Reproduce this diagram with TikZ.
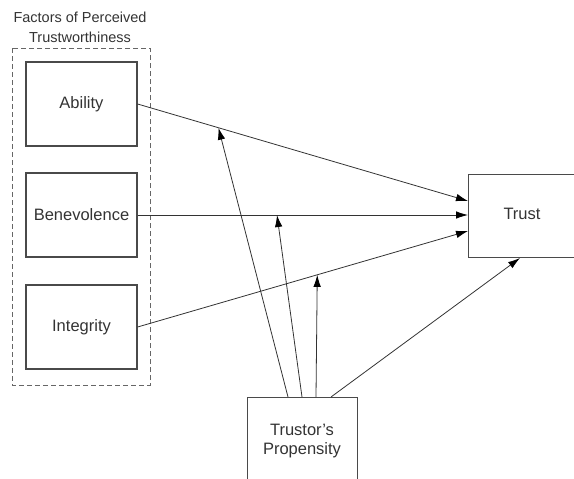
\documentclass[tikz,border=0pt]{standalone}
\usepackage{fontspec}
\setmainfont{Liberation Sans}
\usetikzlibrary{arrows.meta,calc}
\definecolor{edge}{HTML}{4A4A4A}
\definecolor{ink}{HTML}{333333}
\begin{document}
\begin{tikzpicture}[x=1pt,y=-1pt,
  lbl/.style={font=\fontsize{16.5}{19.5}\selectfont,text=ink,align=center},
  box/.style={draw=edge,line width=1.2pt,minimum width=111pt,minimum height=84pt,inner sep=0pt,lbl},
  link/.style={draw=ink,line width=0.8pt,-{Latex[length=12pt,width=7.5pt,color=black]}}]
\useasboundingbox (0,0) rectangle (574,479);
% factor group
\draw[draw=gray!80!black,line width=0.9pt,dash pattern=on 5pt off 3pt] (12,48) rectangle (150,385);
\node[font=\fontsize{14.5}{20}\selectfont,text=ink,align=center] (title) at (80,27) {Factors of Perceived\\Trustworthiness};
\node[box] (abil) at (81.5,104) {Ability};
\node[box] (bene) at (81.5,215) {Benevolence};
\node[box] (integ) at (81.5,327) {Integrity};
% outcome and moderator
\node[box,minimum width=106pt,minimum height=83pt,anchor=north west] (trust) at (468,174) {};
\node[lbl] at (522,214) {Trust};
\node[box,minimum width=110pt,minimum height=90pt,anchor=north west] (prop) at (247,397) {};
\node[lbl] at (302,441) {Trustor's\\Propensity};
% main paths
\coordinate (tA) at (468,201);
\coordinate (tB) at (468,215);
\coordinate (tI) at (468,231);
\draw[link] (abil.east) -- (tA);
\draw[link] (bene.east) -- (tB);
\draw[link] (integ.east) -- (tI);
% moderating paths
\coordinate (mA) at ($(abil.east)!0.2447!(tA)$);
\coordinate (mB) at (277,215);
\coordinate (mI) at ($(integ.east)!0.5438!(tI)$);
\draw[link] (288,397) -- (mA);
\draw[link] (302,397) -- (mB);
\draw[link] (316,397) -- (mI);
\draw[link] (331,397) -- (520,258);
\end{tikzpicture}
\end{document}
